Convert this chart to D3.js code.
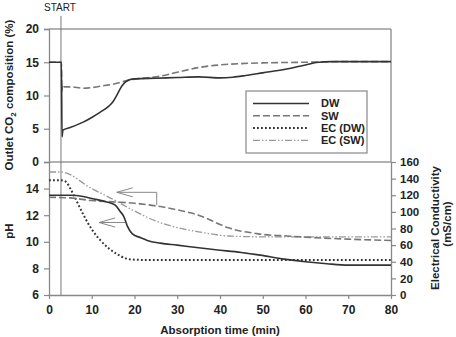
<!DOCTYPE html>
<html>
<head>
<meta charset="utf-8">
<script src="https://cdn.jsdelivr.net/npm/d3@7"></script>
<style>
  body { margin: 0; background: #fff; }
  text { font-family: 'Liberation Sans', Arial, sans-serif; fill: #222; }
</style>
</head>
<body>
<div class="container"></div>
<script>
const timeTicks = [0, 10, 20, 30, 40, 50, 60, 70, 80];
const co2Ticks = [0, 5, 10, 15, 20];
const phTicks = [6, 8, 10, 12, 14];
const ecTicks = [0, 20, 40, 60, 80, 100, 120, 140, 160];
const startTime = 2.8;

// outlet CO2 (%) vs time (min)
const co2DW = [[0, 15], [2.9, 15], [3.05, 3.8], [3.25, 4.8], [5, 5.2], [8, 6.0], [10, 6.7], [12, 7.5], [14, 8.4],
  [15, 9.1], [16, 10.2], [17, 11.4], [18, 12.1], [19, 12.4], [20, 12.5], [25, 12.6], [30, 12.7], [35, 12.8],
  [40, 12.65], [43, 12.75], [46, 13.0], [50, 13.4], [55, 13.9], [60, 14.6], [63, 15.0], [66, 15.1], [80, 15.1]];
const co2SW = [[0, 15], [2.9, 15], [3.0, 10.6], [3.2, 11.6], [3.6, 11.3], [5, 11.3], [8, 11.1], [10, 11.2],
  [13, 11.5], [15, 11.7], [18, 12.2], [20, 12.45], [23, 12.65], [26, 12.9], [30, 13.5], [35, 14.2], [40, 14.6],
  [45, 14.8], [50, 14.9], [60, 15.0], [70, 15.1], [80, 15.1]];

// pH vs time
const phDW = [[0, 13.5], [5, 13.5], [8, 13.4], [10, 13.25], [13.5, 13.0], [15.5, 12.75], [16.6, 12.3], [17.5, 11.9],
  [18.3, 11.2], [19.5, 10.6], [21.5, 10.3], [23, 10.1], [26, 9.9], [30, 9.75], [35, 9.55], [39, 9.4], [45, 9.2],
  [49.4, 9.0], [55, 8.7], [60, 8.5], [65, 8.35], [70, 8.25], [80, 8.25]];
const phSW = [[0, 13.35], [5, 13.3], [10, 13.1], [15, 13.0], [20, 12.9], [25, 12.7], [30, 12.4], [35, 12.0],
  [38, 11.6], [40, 11.3], [42, 11.05], [45, 10.8], [48, 10.65], [50, 10.55], [55, 10.45], [60, 10.35],
  [70, 10.2], [80, 10.1]];

// electrical conductivity (mS/cm) vs time
const ecDW = [[0, 138], [2.8, 138], [4, 136], [5, 128], [6, 118], [8, 97], [10, 79], [12, 66], [14, 56],
  [16, 49], [18, 44], [20, 42.5], [25, 42], [80, 42]];
const ecSW = [[0, 148], [2.8, 148], [10, 128], [15, 115], [20, 101], [25, 89], [30, 81], [35, 76], [42, 71],
  [50, 70], [80, 70]];

// annotation arrows: [tip time, tip pH, tail time, end pH]
const arrows = [[15.85, 13.72, 25.2, 12.75], [11.7, 11.45, 17.8, 11.45]];

const legendItems = [
  { label: 'DW', dash: null, color: '#333', width: 1.6 },
  { label: 'SW', dash: '7,3', color: '#777', width: 1.6 },
  { label: 'EC (DW)', dash: '1.8,2.2', color: '#333', width: 2 },
  { label: 'EC (SW)', dash: '7,2,1.5,2,1.5,2', color: '#999', width: 1.3 }
];

const width = 456;
const height = 337;
const plotLeft = 49;
const plotRight = 391;
const plotTop = 29;
const plotMid = 162;
const plotBottom = 295;

const svg = d3.select('.container').append('svg').attr('width', width).attr('height', height);

const xScale = d3.scaleLinear().domain([0, 80]).range([plotLeft, plotRight]);
const co2Scale = d3.scaleLinear().domain([0, 20]).range([plotMid, plotTop]);
const phScale = d3.scaleLinear().domain([6, 16]).range([plotBottom, plotMid]);
const ecScale = d3.scaleLinear().domain([0, 160]).range([plotBottom, plotMid]);

const styleAxis = (g, fontSize) => {
  g.select('.domain').attr('stroke', '#888').attr('stroke-width', 1.3);
  g.selectAll('.tick line').attr('stroke', '#888').attr('stroke-width', 1.2);
  g.selectAll('.tick text')
    .attr('font-size', fontSize)
    .attr('font-weight', 'bold')
    .attr('font-family', "'Liberation Sans', Arial, sans-serif")
    .attr('fill', '#222');
};

// frame of the top panel
svg.append('line').attr('x1', plotLeft).attr('x2', plotRight).attr('y1', plotTop).attr('y2', plotTop)
  .attr('stroke', '#999').attr('stroke-width', 1.5);
svg.append('line').attr('x1', plotRight).attr('x2', plotRight).attr('y1', plotTop).attr('y2', plotMid)
  .attr('stroke', '#999').attr('stroke-width', 1.5);
svg.append('line').attr('x1', plotLeft).attr('x2', plotRight).attr('y1', plotMid).attr('y2', plotMid)
  .attr('stroke', '#999').attr('stroke-width', 1.5);

// axes
const co2Axis = svg.append('g').attr('transform', `translate(${plotLeft},0)`)
  .call(d3.axisLeft(co2Scale).tickValues(co2Ticks).tickSize(5).tickPadding(5));
styleAxis(co2Axis, 12);

const phAxis = svg.append('g').attr('transform', `translate(${plotLeft},0)`)
  .call(d3.axisLeft(phScale).tickValues(phTicks).tickSize(5).tickPadding(5).tickSizeOuter(0));
styleAxis(phAxis, 12);

const ecAxis = svg.append('g').attr('transform', `translate(${plotRight},0)`)
  .call(d3.axisRight(ecScale).tickValues(ecTicks).tickSize(5).tickPadding(4).tickSizeOuter(0));
styleAxis(ecAxis, 11.5);

const timeAxis = svg.append('g').attr('transform', `translate(0,${plotBottom})`)
  .call(d3.axisBottom(xScale).tickValues(timeTicks).tickSize(4).tickPadding(6).tickSizeOuter(0));
styleAxis(timeAxis, 12);

// start marker
svg.append('line')
  .attr('x1', xScale(startTime)).attr('x2', xScale(startTime))
  .attr('y1', 16).attr('y2', plotBottom)
  .attr('stroke', '#777').attr('stroke-width', 1);
svg.append('text').text('START')
  .attr('x', xScale(startTime) - 1).attr('y', 11)
  .attr('text-anchor', 'middle').attr('font-size', 10).attr('fill', '#444');

const lineFor = yScale => d3.line().x(d => xScale(d[0])).y(d => yScale(d[1])).curve(d3.curveMonotoneX);

const drawSeries = (data, yScale, item) => {
  svg.append('path')
    .attr('d', lineFor(yScale)(data))
    .attr('fill', 'none')
    .attr('stroke', item.color)
    .attr('stroke-width', item.width)
    .attr('stroke-dasharray', item.dash);
};

drawSeries(co2SW, co2Scale, legendItems[1]);
drawSeries(co2DW, co2Scale, legendItems[0]);
drawSeries(ecSW, ecScale, legendItems[3]);
drawSeries(ecDW, ecScale, legendItems[2]);
drawSeries(phSW, phScale, legendItems[1]);
drawSeries(phDW, phScale, legendItems[0]);

// arrows pointing to the pH axis
arrows.forEach(([t0, p0, t1, p1]) => {
  const x0 = xScale(t0);
  const y0 = phScale(p0);
  const pts = [[x0 + 16, y0 - 4.5], [x0, y0], [x0 + 16, y0 + 4.5]];
  svg.append('path').attr('d', d3.line()(pts)).attr('fill', 'none').attr('stroke', '#888').attr('stroke-width', 1);
  const tail = [[x0, y0], [xScale(t1), y0], [xScale(t1), phScale(p1)]];
  svg.append('path').attr('d', d3.line()(tail)).attr('fill', 'none').attr('stroke', '#888').attr('stroke-width', 1);
});

// legend
const legend = svg.append('g').attr('transform', 'translate(246,91)');
legend.append('rect').attr('width', 121).attr('height', 62)
  .attr('fill', '#fff').attr('stroke', '#888').attr('stroke-width', 1.2);
legendItems.forEach((item, i) => {
  const y = 12.5 + i * 12.3;
  legend.append('line').attr('x1', 7).attr('x2', 63).attr('y1', y).attr('y2', y)
    .attr('stroke', item.color).attr('stroke-width', item.width).attr('stroke-dasharray', item.dash);
  legend.append('text').text(item.label).attr('x', 75).attr('y', y).attr('dy', '0.36em')
    .attr('font-size', 11).attr('font-weight', 'bold');
});

// axis titles
const co2Title = svg.append('text')
  .attr('transform', 'translate(13,95) rotate(-90)')
  .attr('text-anchor', 'middle').attr('font-size', 11.5).attr('font-weight', 'bold');
co2Title.append('tspan').text('Outlet CO');
co2Title.append('tspan').text('2').attr('font-size', 8).attr('dy', 3);
co2Title.append('tspan').text(' composition (%)').attr('dy', -3);

svg.append('text').text('pH')
  .attr('transform', 'translate(13,231) rotate(-90)')
  .attr('text-anchor', 'middle').attr('font-size', 11.5).attr('font-weight', 'bold');

svg.append('text').text('Electrical Conductivity')
  .attr('transform', 'translate(439,228) rotate(-90)')
  .attr('text-anchor', 'middle').attr('font-size', 11.5).attr('font-weight', 'bold');
svg.append('text').text('(mS/cm)')
  .attr('transform', 'translate(451,224) rotate(-90)')
  .attr('text-anchor', 'middle').attr('font-size', 11.5).attr('font-weight', 'bold');

svg.append('text').text('Absorption time (min)')
  .attr('x', 220).attr('y', 334)
  .attr('text-anchor', 'middle').attr('font-size', 11.5).attr('font-weight', 'bold');
</script>
</body>
</html>
